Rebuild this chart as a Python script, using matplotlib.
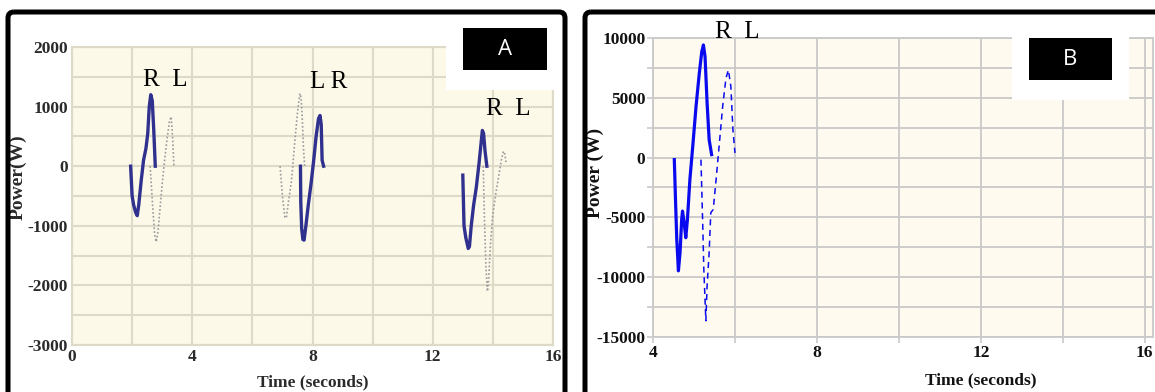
import numpy as np
import matplotlib
matplotlib.use("Agg")
from matplotlib import pyplot as plt
from matplotlib.patches import Rectangle, FancyBboxPatch
from matplotlib.ticker import MultipleLocator

plt.rcParams['font.family'] = ['Liberation Serif', 'DejaVu Serif']
plt.rcParams['axes.unicode_minus'] = False

# ---- panel A : three steps, R solid / L dotted (time s, power W)
a_r1_t = [1.95, 2.00, 2.05, 2.12, 2.17, 2.22, 2.30, 2.38, 2.46, 2.52, 2.57, 2.62, 2.67, 2.72, 2.77]
a_r1_p = [0, -500, -650, -780, -830, -650, -250, 100, 300, 550, 1000, 1200, 1100, 600, 0]
a_l1_t = [2.60, 2.68, 2.75, 2.80, 2.86, 2.93, 3.00, 3.08, 3.16, 3.24, 3.30, 3.35, 3.39]
a_l1_p = [0, -650, -1150, -1270, -1100, -700, -300, 100, 450, 750, 830, 450, 0]

a_l2_t = [6.92, 7.00, 7.08, 7.13, 7.20, 7.30, 7.40, 7.50, 7.58, 7.62, 7.66, 7.70, 7.74]
a_l2_p = [0, -500, -850, -870, -600, -250, 350, 900, 1220, 1150, 800, 300, 0]
a_r2_t = [7.60, 7.61, 7.64, 7.68, 7.72, 7.78, 7.86, 7.95, 8.04, 8.12, 8.20, 8.25, 8.29, 8.32, 8.37]
a_r2_p = [0, -600, -1050, -1230, -1240, -1000, -650, -300, 100, 500, 800, 850, 700, 100, 0]

a_r3_t = [13.00, 13.04, 13.10, 13.18, 13.22, 13.28, 13.36, 13.45, 13.54, 13.60, 13.65, 13.69, 13.74, 13.80]
a_r3_p = [-150, -1000, -1200, -1380, -1350, -1000, -650, -350, 50, 350, 600, 550, 250, 0]
a_l3_t = [13.68, 13.72, 13.77, 13.82, 13.86, 13.92, 14.00, 14.10, 14.20, 14.28, 14.35, 14.40, 14.44]
a_l3_p = [0, -900, -1700, -2100, -1900, -1300, -800, -450, -150, 100, 250, 200, 50]

# ---- panel B : one step
b_r_t = [4.52, 4.55, 4.58, 4.62, 4.66, 4.70, 4.72, 4.76, 4.80, 4.84, 4.90, 4.97,
         5.05, 5.13, 5.19, 5.23, 5.27, 5.32, 5.37, 5.43]
b_r_p = [-170, -3640, -6830, -9470, -7940, -5170, -4470, -5440, -6700, -5170, -1830, 940,
         4280, 7060, 8860, 9420, 8440, 4560, 1500, 250]
b_l_t = [5.17, 5.21, 5.24, 5.29, 5.32, 5.37, 5.41, 5.47, 5.54, 5.62, 5.70, 5.78, 5.84, 5.90, 5.95, 6.00]
b_l_p = [-170, -5170, -9330, -13640, -10720, -7940, -4610, -4330, -1830, 1220, 4280, 6640,
         7330, 5940, 2330, 390]

a_notes = [("R  L", 3.09, 1446), ("L R", 8.55, 1410), ("R  L", 14.5, 965)]
b_notes = [("R  L", 6.05, 10460)]

W, H = 1155, 392
fig = plt.figure(figsize=(W / 100, H / 100), dpi=100)
fig.patch.set_facecolor('white')


def px_axes(l, t, r, b):
  """axes from pixel box (left, top, right, bottom)"""
  return fig.add_axes([l / W, 1 - b / H, (r - l) / W, (b - t) / H])


# ---------------- panel A
axA = px_axes(72, 47, 553, 345)
axA.set_facecolor('#fcf9e9')
axA.plot(a_r1_t, a_r1_p, color='#30308f', lw=2.4)
axA.plot(a_l1_t, a_l1_p, color='#9a9a9a', lw=1.2, ls=(0, (1, 1.3)))
axA.plot(a_l2_t, a_l2_p, color='#9a9a9a', lw=1.2, ls=(0, (1, 1.3)))
axA.plot(a_r2_t, a_r2_p, color='#30308f', lw=2.4)
axA.plot(a_r3_t, a_r3_p, color='#30308f', lw=2.4)
axA.plot(a_l3_t, a_l3_p, color='#9a9a9a', lw=1.2, ls=(0, (1, 1.3)))
axA.set_xlim(0, 16)
axA.set_ylim(-3000, 2000)
axA.xaxis.set_major_locator(MultipleLocator(4))
axA.xaxis.set_minor_locator(MultipleLocator(2))
axA.yaxis.set_major_locator(MultipleLocator(1000))
axA.yaxis.set_minor_locator(MultipleLocator(500))
axA.grid(which='both', color='#dedac8', lw=1.5)
axA.set_axisbelow(True)
for s in axA.spines.values():
  s.set_color('#dedac8')
  s.set_linewidth(1.5)
axA.tick_params(which='both', length=0, labelsize=12.5, labelcolor='#2a2a2a')
axA.tick_params(axis='y', pad=3)
axA.tick_params(axis='x', pad=3)
for lab in axA.get_xticklabels() + axA.get_yticklabels():
  lab.set_fontweight('bold')
axA.set_xlabel('Time (seconds)', fontsize=12.5, fontweight='bold', color='#2a2a2a')
axA.set_ylabel('Power(W)', fontsize=14, fontweight='bold', color='#2a2a2a')
axA.xaxis.label.set_va('center')
axA.yaxis.label.set_va('center')
axA.xaxis.set_label_coords(0.501, -0.124)
axA.yaxis.set_label_coords(-0.112, 0.564)
for txt, x, y in a_notes:
  axA.text(x, y, txt, fontsize=18, ha='center', va='center', color='black')

# ---------------- panel B
axB = px_axes(653, 38, 1153, 337)
axB.set_facecolor('#fffaef')
axB.plot(b_r_t, b_r_p, color='#0a0aee', lw=2.3)
axB.plot(b_l_t, b_l_p, color='#0a0aee', lw=1.1, ls=(0, (4, 3)))
axB.set_xlim(4, 16.2)
axB.set_ylim(-15000, 10000)
axB.xaxis.set_major_locator(MultipleLocator(4))
axB.xaxis.set_minor_locator(MultipleLocator(2))
axB.yaxis.set_major_locator(MultipleLocator(5000))
axB.yaxis.set_minor_locator(MultipleLocator(2500))
axB.grid(which='both', color='#c9c9c9', lw=1.3)
axB.set_axisbelow(True)
for s in axB.spines.values():
  s.set_color('#c9c9c9')
  s.set_linewidth(1.3)
axB.tick_params(which='both', length=4, color='#c9c9c9', width=1.2)
axB.tick_params(labelsize=12.5, labelcolor='#111111', pad=1.5)
for lab in axB.get_xticklabels() + axB.get_yticklabels():
  lab.set_fontweight('bold')
axB.set_xlabel('Time (seconds)', fontsize=12.5, fontweight='bold', color='#111111')
axB.set_ylabel('Power (W)', fontsize=14, fontweight='bold', color='#111111')
axB.xaxis.label.set_va('center')
axB.yaxis.label.set_va('center')
axB.xaxis.set_label_coords(0.656, -0.144)
axB.yaxis.set_label_coords(-0.116, 0.548)
for txt, x, y in b_notes:
  axB.text(x, y, txt, fontsize=18, ha='center', va='center', color='black', clip_on=False)

# ---------------- overlay: frames and panel tags
ov = fig.add_axes([0, 0, 1, 1], zorder=10)
ov.set_xlim(0, W)
ov.set_ylim(H, 0)
ov.axis('off')
ov.patch.set_alpha(0)

ov.add_patch(FancyBboxPatch((8, 12), 557, 400, boxstyle='round,pad=0,rounding_size=6',
                            fc='none', ec='black', lw=3.6))
ov.add_patch(FancyBboxPatch((585, 12), 600, 400, boxstyle='round,pad=0,rounding_size=6',
                            fc='none', ec='black', lw=3.6))

ov.add_patch(Rectangle((446, 15), 109, 75, fc='white', ec='none'))
ov.add_patch(Rectangle((463, 28), 84, 42, fc='black', ec='none'))
ov.text(505, 49, 'A', color='white', fontsize=16, ha='center', va='center', family='Open Sans')

ov.add_patch(Rectangle((1012, 15), 117, 85, fc='white', ec='none'))
ov.add_patch(Rectangle((1029, 38), 83, 42, fc='black', ec='none'))
ov.text(1070, 59, 'B', color='white', fontsize=16, ha='center', va='center', family='Open Sans')

fig.savefig('out.png', dpi=100, facecolor='white')
